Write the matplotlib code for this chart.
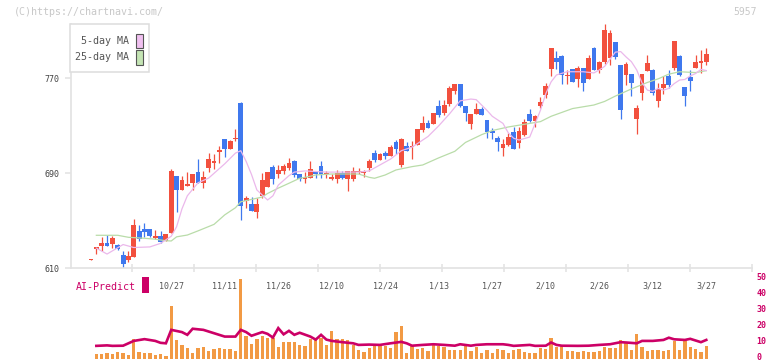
import numpy as np
import matplotlib
matplotlib.use("Agg")
import matplotlib.pyplot as plt
import matplotlib.transforms as mtransforms
from matplotlib.patches import Rectangle

# ==========================================
# DATA
# ==========================================

opens = [617.3, 626.3, 629.0, 631.3, 630.7, 629.6, 621.2, 617.0, 619.5, 641.4,
         643.1, 643.1, 635.5, 637.2, 633.0, 640.0, 687.7, 676.2, 679.6, 682.1,
         691.1, 682.1, 694.7, 698.4, 707.7, 718.9, 710.7, 718.5, 749.2, 666.7,
         664.1, 657.7, 671.1, 678.5, 695.3, 689.7, 691.9, 694.2, 700.4, 689.4,
         685.5, 686.3, 691.9, 696.4, 689.2, 685.0, 685.0, 690.3, 685.0, 685.5,
         691.1, 690.3, 694.2, 707.1, 701.2, 707.1, 704.8, 716.4, 697.0, 713.0,
         711.9, 714.1, 726.5, 732.4, 731.8, 746.9, 740.5, 748.6, 759.6, 765.2,
         746.7, 731.5, 740.0, 744.1, 734.9, 725.6, 719.7, 711.3, 713.8, 724.8,
         715.5, 722.2, 740.0, 734.0, 746.7, 755.9, 777.8, 787.3, 788.8, 771.8,
         777.8, 769.4, 778.7, 769.4, 795.5, 777.0, 783.7, 787.1, 800.6, 781.2,
         772.8, 773.6, 735.7, 757.6, 776.1, 777.0, 750.9, 761.8, 772.0, 778.7,
         788.8, 762.6, 771.1, 778.7, 782.9, 783.7]
highs = [617.8, 628.0, 636.4, 638.0, 637.2, 630.5, 624.6, 624.6, 651.5, 646.5,
         648.1, 643.1, 642.5, 641.4, 639.0, 693.6, 687.7, 687.7, 691.1, 689.4,
         702.0, 691.9, 707.1, 706.0, 713.0, 718.9, 718.0, 727.3, 750.3, 671.1,
         670.0, 668.9, 690.0, 691.1, 697.0, 697.0, 697.6, 703.1, 701.5, 689.4,
         691.1, 700.4, 691.9, 700.4, 691.9, 689.7, 692.5, 691.9, 691.9, 695.3,
         694.7, 693.0, 702.3, 709.9, 707.1, 708.8, 713.6, 718.0, 719.5, 716.4,
         717.4, 727.1, 738.0, 734.6, 741.0, 751.5, 751.5, 763.3, 765.2, 765.2,
         746.7, 740.0, 749.2, 745.8, 734.9, 728.4, 721.4, 718.9, 723.9, 729.0,
         729.0, 735.7, 744.1, 739.1, 754.2, 766.0, 795.8, 793.3, 789.6, 777.0,
         777.8, 780.3, 778.7, 789.6, 796.4, 784.6, 815.7, 810.7, 800.6, 781.2,
         783.7, 773.6, 747.5, 773.6, 789.6, 777.8, 766.0, 772.0, 777.0, 801.4,
         789.6, 762.6, 777.0, 789.6, 793.8, 795.5]
lows = [617.3, 621.8, 624.6, 629.0, 627.3, 625.4, 610.5, 615.3, 619.5, 633.0,
        636.4, 636.4, 634.7, 631.3, 633.0, 640.0, 657.7, 676.2, 679.6, 675.9,
        682.1, 677.9, 690.8, 693.6, 698.4, 703.5, 710.7, 717.2, 650.9, 660.5,
        658.3, 652.6, 668.9, 678.5, 681.0, 685.8, 689.7, 693.0, 687.1, 683.8,
        682.1, 686.3, 686.3, 685.8, 686.3, 684.4, 682.1, 685.0, 675.3, 683.8,
        689.7, 686.6, 691.9, 699.5, 701.2, 701.8, 704.8, 706.5, 695.3, 708.8,
        701.8, 714.1, 724.8, 728.1, 731.8, 737.4, 738.8, 746.9, 756.8, 745.6,
        734.3, 727.6, 740.0, 739.1, 719.7, 718.9, 708.8, 704.6, 713.0, 710.5,
        711.3, 721.4, 733.2, 729.0, 745.0, 753.4, 772.0, 777.8, 765.2, 765.2,
        766.9, 762.6, 759.3, 769.4, 777.0, 774.4, 782.1, 781.2, 786.3, 735.7,
        764.3, 755.1, 723.1, 751.7, 776.1, 755.9, 745.8, 756.8, 761.8, 777.0,
        772.0, 746.7, 759.3, 778.7, 774.4, 781.2]
closes = [617.8, 627.9, 631.3, 629.0, 635.5, 626.5, 613.9, 620.4, 646.5, 634.9,
          640.8, 637.5, 637.2, 632.4, 638.9, 691.9, 676.2, 684.4, 680.7, 689.4,
          682.1, 687.1, 702.0, 700.4, 709.6, 710.7, 717.2, 719.0, 662.7, 668.9,
          658.3, 664.1, 684.4, 691.1, 685.5, 693.0, 696.4, 698.7, 688.6, 685.5,
          687.1, 693.6, 689.4, 689.7, 689.6, 687.1, 690.3, 686.0, 691.9, 691.9,
          691.5, 691.9, 700.1, 701.2, 706.0, 704.6, 711.9, 710.7, 718.9, 708.8,
          713.0, 727.1, 732.4, 728.1, 741.0, 739.3, 747.5, 761.6, 765.2, 746.7,
          741.0, 740.0, 744.1, 739.1, 724.8, 723.9, 716.4, 714.7, 720.6, 710.5,
          725.6, 733.2, 734.0, 738.2, 750.0, 763.5, 795.8, 783.9, 772.8, 772.2,
          766.9, 778.7, 766.1, 787.1, 777.0, 783.7, 810.7, 808.1, 787.9, 743.3,
          782.0, 766.1, 745.0, 773.6, 782.9, 757.6, 761.0, 765.2, 764.3, 801.4,
          772.8, 755.1, 767.7, 783.7, 784.6, 790.4]

# moving averages, sampled at candle index
ma5_idx = [1, 3, 6, 8, 11, 13, 14, 15, 16, 17, 18, 20, 22, 23, 25, 27, 28, 29,
           30, 31, 33, 34, 35, 37, 38, 40, 44, 50, 52, 54, 56, 58, 60, 61, 63,
           65, 67, 69, 71, 72, 74, 75, 77, 78, 79, 80, 82, 84, 85, 86, 87, 89,
           92, 94, 95, 96, 97, 98, 99, 100, 101, 102, 103, 104, 105, 106, 107,
           108, 109, 110, 111, 112, 113, 114, 115]
ma5_val = [627.0, 622.0, 630.0, 627.5, 628.0, 631.0, 634.0, 637.0, 645.0, 660.0,
           671.0, 682.0, 686.0, 690.0, 698.0, 707.0, 709.0, 700.0, 689.0, 676.0,
           667.5, 671.0, 680.0, 688.0, 691.0, 692.0, 691.0, 691.0, 692.0, 697.0,
           702.0, 709.0, 712.0, 715.0, 721.0, 730.0, 740.0, 751.0, 752.5, 752.0,
           743.0, 738.0, 732.0, 724.0, 719.5, 718.0, 720.5, 743.0, 757.0, 767.0,
           772.8, 775.5, 775.5, 774.5, 777.0, 780.0, 786.0, 792.0, 792.5, 788.0,
           784.0, 777.0, 766.0, 760.0, 759.0, 761.5, 760.0, 761.5, 765.5, 768.5,
           769.0, 772.0, 774.0, 777.5, 776.5]

ma25_idx = [1, 5, 7, 10, 12, 14, 15, 16, 18, 20, 23, 25, 27, 28, 30, 32, 33,
            35, 37, 39, 41, 42, 45, 50, 52, 53, 55, 57, 60, 62, 65, 68, 70, 73,
            75, 78, 80, 84, 86, 90, 94, 96, 98, 101, 104, 106, 108, 110, 113,
            115]
ma25_val = [637.8, 637.8, 636.1, 635.3, 634.5, 633.2, 633.0, 636.5, 638.0, 641.5,
            647.0, 655.0, 661.0, 666.0, 668.0, 670.0, 673.0, 677.5, 681.6, 685.8,
            687.5, 688.6, 689.4, 689.4, 686.6, 685.8, 688.6, 692.8, 695.6, 697.0,
            703.0, 708.5, 716.0, 722.5, 726.0, 729.0, 730.5, 733.5, 738.0, 744.5,
            747.5, 750.5, 755.0, 761.0, 766.5, 769.5, 773.5, 775.5, 774.8, 776.4]

# volume bars (candle 0 has none)
volume = [np.nan,
          2.8, 2.8, 3.5, 2.8, 4.1, 3.5, 2.2, 12.3, 4.1, 3.5,
          3.5, 2.2, 2.8, 1.6, 33.0, 11.6, 8.5, 6.6, 3.5, 6.6,
          7.2, 4.7, 6.0, 6.6, 6.0, 6.0, 4.7, 50.0, 14.2, 9.1,
          12.3, 14.2, 13.0, 13.0, 7.2, 10.3, 10.3, 10.3, 8.5, 7.9,
          12.3, 12.3, 13.0, 8.5, 17.3, 12.3, 12.3, 11.6, 8.5, 5.4,
          4.1, 6.6, 8.5, 8.5, 7.9, 6.6, 16.7, 20.5, 3.5, 7.9,
          6.0, 6.6, 4.7, 8.5, 7.9, 7.2, 5.4, 5.4, 5.4, 7.9,
          4.7, 7.2, 3.5, 5.4, 3.5, 6.0, 5.4, 3.5, 5.4, 6.0,
          4.1, 3.5, 3.5, 6.6, 6.0, 13.0, 7.2, 7.9, 4.7, 4.7,
          4.1, 4.7, 4.1, 4.1, 4.7, 7.2, 6.6, 6.6, 11.6, 9.7,
          5.4, 15.4, 7.2, 4.7, 5.4, 5.4, 4.7, 5.4, 11.0, 5.4,
          11.0, 7.2, 6.0, 4.1, 7.9]

ai_idx = [1, 3, 4, 6, 8, 10, 12, 13, 14, 15, 17, 18, 19, 21, 23, 25, 27, 28,
          29, 30, 32, 33, 34, 35, 36, 37, 38, 39, 41, 42, 43, 44, 45, 47, 49,
          50, 52, 54, 56, 58, 59, 60, 62, 64, 66, 68, 69, 71, 72, 74, 77, 78,
          79, 82, 83, 85, 86, 87, 88, 91, 93, 95, 97, 99, 100, 102, 103, 105,
          107, 108, 109, 111, 112, 114, 115]
ai_val = [7.9, 8.2, 7.9, 8.0, 11.0, 12.1, 11.0, 9.8, 9.5, 17.9, 16.5, 14.8, 18.6,
          17.9, 15.8, 13.7, 13.7, 17.9, 16.5, 14.2, 16.5, 15.4, 13.1, 19.0, 15.1,
          17.3, 14.8, 16.1, 13.7, 11.8, 14.8, 11.8, 11.0, 10.2, 9.5, 8.5, 8.7,
          8.5, 9.5, 10.4, 9.5, 8.0, 8.5, 8.9, 8.5, 8.0, 8.9, 8.0, 8.5, 8.9, 8.9,
          8.5, 7.9, 8.5, 7.9, 8.0, 10.0, 8.5, 8.0, 7.9, 8.0, 8.5, 8.9, 10.2, 10.0,
          9.5, 11.0, 11.0, 11.6, 13.0, 12.0, 11.6, 12.3, 10.2, 11.6]

date_idx = [15, 25, 35, 45, 55, 65, 75, 85, 95, 105, 115]
date_labels = ["10/27", "11/11", "11/26", "12/10", "12/24", "1/13", "1/27",
               "2/10", "2/26", "3/12", "3/27"]
price_ticks = [610, 690, 770]
vol_ticks = [0, 10, 20, 30, 40, 50]

# ==========================================
# STYLE
# ==========================================

W, H = 772, 361
MONO = "DejaVu Sans Mono"
RED = "#f2503e"
BLUE = "#3f78ee"
GRID = "#e2e2e2"
MAGENTA = "#cc0066"


def fx(x):
    return x / W


def fy(y):
    return 1 - y / H


fig = plt.figure(figsize=(W / 100, H / 100), dpi=100)

# ==========================================
# PRICE PANEL
# ==========================================

ax = fig.add_axes([fx(70.5), fy(268.3), fx(752.3 - 70.5), (268.3 - 24) / H])
xlim = (-3.83, 123.6)
ax.set_xlim(*xlim)
ax.set_ylim(610, 815.7)

idx = np.arange(len(opens))
o = np.array(opens)
c = np.array(closes)
up = c >= o
colors = np.where(up, RED, BLUE)

ax.vlines(idx, lows, highs, colors=colors, linewidth=0.9, zorder=2)
body_lo = np.minimum(o, c)
body_h = np.maximum(np.abs(c - o), 0.9)
ax.bar(idx, body_h, bottom=body_lo, width=0.9, color=colors, linewidth=0, zorder=3)

ax.plot(ma25_idx, ma25_val, color="#b9dca9", linewidth=0.9, zorder=4)
ax.plot(ma5_idx, ma5_val, color="#ebb8eb", linewidth=0.9, zorder=4)

for s in ["top", "right"]:
    ax.spines[s].set_visible(False)
for s in ["left", "bottom"]:
    ax.spines[s].set_color(GRID)
    ax.spines[s].set_linewidth(1.2)

ax.set_yticks(price_ticks)
ax.set_yticklabels([str(v) for v in price_ticks], family=MONO, fontsize=6, color="#444444")
ax.tick_params(axis="y", length=4, width=1.1, color=GRID, pad=4)
ax.set_xticks(np.linspace(xlim[0], xlim[1], 12)[1:])
ax.set_xticklabels([])
ax.tick_params(axis="x", direction="inout", length=6, width=1.1, color=GRID)

trans = mtransforms.blended_transform_factory(ax.transData, ax.transAxes)
for i, lab in zip(date_idx, date_labels):
    ax.text(i, -0.071, lab, transform=trans, ha="center", va="center",
            family=MONO, fontsize=6, color="#555555")

# ==========================================
# VOLUME / AI PANEL
# ==========================================

vax = fig.add_axes([fx(70.5), fy(358.5), fx(752.3 - 70.5), (358.5 - 278.5) / H])
vax.patch.set_visible(False)
vax.set_xlim(*xlim)
vax.set_ylim(0, 50)
vax.bar(np.arange(len(volume)), volume, width=0.62, color="#f29a44", linewidth=0)
vax.plot(ai_idx, ai_val, color=MAGENTA, linewidth=1.9, solid_joinstyle="miter")
for s in vax.spines.values():
    s.set_visible(False)
vax.set_xticks([])
vax.yaxis.tick_right()
vax.set_yticks(vol_ticks)
vax.set_yticklabels([str(v) for v in vol_ticks], family=MONO, fontsize=6,
                    color=MAGENTA, fontweight="bold")
vax.tick_params(axis="y", length=0, pad=3)
# nudge the right-hand labels up a little so "0" stays inside the figure
lift = mtransforms.ScaledTranslation(0, 1.8 / 72, fig.dpi_scale_trans)
for lab in vax.get_yticklabels():
    lab.set_transform(lab.get_transform() + lift)

# ==========================================
# HEADER, LEGEND, LABELS
# ==========================================

fig.text(fx(14), fy(12.3), "(C)https://chartnavi.com/", ha="left", va="center",
         family=MONO, fontsize=7.2, color="#c8c8c8")
fig.text(fx(757), fy(12.3), "5957", ha="right", va="center",
         family=MONO, fontsize=7, color="#c8c8c8")

fig.add_artist(Rectangle((fx(70.3), fy(71.7)), fx(148.7 - 70.3), (71.7 - 24.3) / H,
                         transform=fig.transFigure, facecolor="white",
                         edgecolor="#dddddd", linewidth=1.1))
for ytxt, lab, col in [(40.7, "5-day MA", "#f0c0f0"), (57.3, "25-day MA", "#c4e4b4")]:
    fig.text(fx(129.3), fy(ytxt), lab, ha="right", va="center",
             family=MONO, fontsize=7.2, color="#555555")
    fig.add_artist(Rectangle((fx(136.3), fy(ytxt + 7.2)), fx(6.4), 14.3 / H,
                             transform=fig.transFigure, facecolor=col,
                             edgecolor="#555555", linewidth=0.8))

fig.text(fx(76), fy(286.7), "AI-Predict", ha="left", va="center",
         family=MONO, fontsize=7.2, color=MAGENTA)
fig.add_artist(Rectangle((fx(142), fy(292.7)), fx(7), 15.4 / H,
                         transform=fig.transFigure, facecolor=MAGENTA,
                         edgecolor="none"))

fig.savefig("out.png", dpi=100)
